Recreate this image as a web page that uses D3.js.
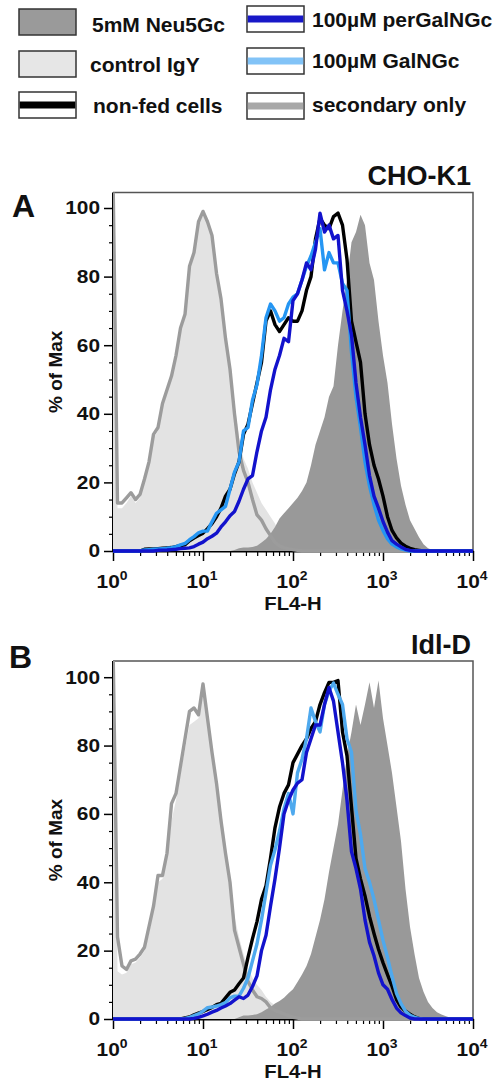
<!DOCTYPE html>
<html><head><meta charset="utf-8">
<script src="https://cdn.jsdelivr.net/npm/d3@7"></script>
<style>
body{margin:0;background:#fff}
svg{display:block}
text{font-family:"Liberation Sans",Arial,Helvetica,sans-serif;font-weight:bold;fill:#111}
</style>
</head><body>
<svg id="chart" width="501" height="1082"></svg>
<script>
// ---------- DATA ----------
// histogram channels, as log10(FL4-H)
const binExp = [0,0.05,0.1,0.15,0.2,0.25,0.3,0.35,0.4,0.45,0.5,0.55,0.6,0.65,0.7,0.75,0.8,0.85,0.9,0.95,
  1,1.05,1.1,1.15,1.2,1.25,1.3,1.35,1.4,1.45,1.5,1.55,1.6,1.65,1.7,1.75,1.8,1.85,1.9,1.95,
  2,2.05,2.1,2.15,2.2,2.25,2.3,2.35,2.4,2.45,2.5,2.55,2.6,2.65,2.7,2.75,2.8,2.85,2.9,2.95,
  3,3.05,3.1,3.15,3.2,3.25,3.3,3.35,3.4,3.45,3.5,3.55,3.6,3.65,3.7,3.75,3.8,3.85,3.9,3.95,4];

const seriesNames = ["5mM Neu5Gc","control IgY","non-fed cells","100\u00b5M perGalNGc","100\u00b5M GalNGc","secondary only"];
const panelTitles = ["CHO-K1","Idl-D"];
const panelLetters = ["A","B"];
const yTicks = [0,20,40,60,80,100];
const xTickExp = [0,1,2,3,4];
const xLabel = "FL4-H";
const yLabel = "% of Max";

// Panel A (CHO-K1), % of Max
const A_neu5gc = [0,0,0,0,0,0,0,0,0,0,0,0,0,0,0,0,0,0,0,0,
  0,0,0,0,0,0,0,0.3,0.8,1,1,1.2,1.5,2.5,3.5,5,7,9.5,11,12.5,
  14,15.5,17.5,20,25,31,35,39,45,48,60,70,79,90,93,98,95,84,79,67,
  57,49,37,27,19,13.5,9,6.5,4,2,0.8,0.3,0,0,0,0,0,0,0,0,0];
const A_control = [110,12.5,12.5,14,16,14,15.5,20,25,33,35,42,46,50.5,56,64,68,82,86,95,
  98,97,93,82,75,64,55,43,33,27,24,20,17,14,12,10,8,5,2.5,1.5,
  1,0.5,0,0,0,0,0,0,0,0,0,0,0,0,0,0,0,0,0,0,
  0,0,0,0,0,0,0,0,0,0,0,0,0,0,0,0,0,0,0,0,0];
const A_nonfed = [0,0,0,0,0,0,0,0.5,0.6,0.6,0.7,0.8,0.9,1,1.3,1.6,1.8,3,3.8,4.5,
  5.2,6.5,8,10,12.5,16,18,22.5,26,34,37,43,49,55,67,70,66,64,66,68,
  67,67,70,76,80,91,97,95,94,97.5,98.5,95,85,67,61,55,40,31,25,21,
  16,10,6,3.8,2.3,1.4,0.8,0.4,0.2,0,0,0,0,0,0,0,0,0,0,0,0];
const A_pergalngc = [0,0,0,0,0,0,0,0,0,0,0.2,0.25,0.3,0.4,0.5,0.7,0.8,0.9,1.3,2,
  2.6,3.6,4.3,5.2,7,8.5,10.3,11.5,14.5,18,21,22,29,35,39,47,53,57,62,61,
  73,75,79,84,82,88,98.5,93,95,91,92,76,70,63,49,39,31,22,16,12.5,
  8.6,5.5,3,2,1.2,0.5,0.2,0,0,0,0,0,0,0,0,0,0,0,0,0,0];
const A_galngc = [0,0,0,0,0,0,0,0.3,0.4,0.5,0.6,0.7,0.8,1,1.3,1.8,2.2,3.3,4.2,5.3,
  5.8,5.8,8.5,11,12,13,18,23,26,35,36,44,48.5,57,68,72,70,67,68,72,
  74,75,79,83,86,90,94,82,87,84,84,78,76,58,45,36,26,19,13.5,9,
  6,3.5,2,1.2,0.6,0.3,0,0,0,0,0,0,0,0,0,0,0,0,0,0,0];
const A_secondary = [110,14,14,15.5,17,15,16.5,21,26,34,36,43,47,51,57,65,69,83,87,96,
  99,96,92,81,73.5,62,53,40,29,23.5,20,15,10.5,9,6.5,4.5,2.5,1.5,1,0.6,
  0.4,0.2,0,0,0,0,0,0,0,0,0,0,0,0,0,0,0,0,0,0,
  0,0,0,0,0,0,0,0,0,0,0,0,0,0,0,0,0,0,0,0,0];

// Panel B (Idl-D), % of Max
const B_neu5gc = [0,0,0,0,0,0,0,0,0,0,0,0,0,0,0,0,0,0,0,0,
  0,0,0,0,0,0,0,0,0.5,1,1,1.2,1.4,2,2.8,3.5,4.5,5.3,6.2,7.5,
  8.7,10.8,13,15.5,19,24,29,35,43,50,57,67,77,84,92,86,92,98.5,91,99,
  88,80,72,62,52,38,27,19,12,8,5,3.2,2,1.3,0.8,0.4,0.1,0,0,0,0];
const B_control = [110,14,13,13.5,16,16.5,18,20,25,32,40,41,47,58,64,72,79,86,87,88,
  96,89,80,71,61,51,42,30,24,19,15,12,10,8.5,6.5,5,4,2.5,1.5,1,
  0.5,0,0,0,0,0,0,0,0,0,0,0,0,0,0,0,0,0,0,0,
  0,0,0,0,0,0,0,0,0,0,0,0,0,0,0,0,0,0,0,0,0];
const B_nonfed = [0,0,0,0,0,0,0,0,0,0,0,0,0,0,0,0,0.3,0.6,1.2,1.7,
  2.2,2.8,3.4,4.2,4.6,6.2,7.8,8.5,10.3,12,18,23.5,28.5,35,39,47,56,62,66,68.5,
  75,77.5,80,82,85,87,92,95.5,98.5,98.5,99,84,77,62,47,41,36,30,25,20.4,
  16.5,13,9.6,5.7,3.5,2.3,1.4,0.6,0.2,0,0,0,0,0,0,0,0,0,0,0,0];
const B_pergalngc = [0,0,0,0,0,0,0,0,0,0,0,0,0,0,0,0,0,0,0.2,0.5,
  0.9,1.4,2,2.5,3.2,3.8,4.5,5.5,6.5,6,7,9.5,12.6,20,24.5,33,41,50,60,64,
  67,69,70,78,82,86,86,92,97,93,84,75,64,49,44,38,29,22.5,18.5,13.5,
  10,8.7,5.7,3.2,1.8,1,0.3,0,0,0,0,0,0,0,0,0,0,0,0,0,0];
const B_galngc = [0,0,0,0,0,0,0,0,0,0,0,0,0,0,0,0,0.2,0.5,1,1.5,
  2.3,3.3,3.5,3.8,4.2,4.8,6.2,6.7,6.7,9,12,17,22,29,37,45,49.5,55,61.5,66,
  60,72,76,82,91,87,84,92,96,98.3,95,92,82,78,61,54,44,40,35,29,
  23,18,12.5,7.5,4.5,2.3,1.1,0.5,0.2,0,0,0,0,0,0,0,0,0,0,0,0];
const B_secondary = [110,24,15.5,14.5,17,17.5,19,21,27,33,42,42,48.5,63,66,74,82,90,91,89,
  98,88,78,69,58,48.5,40,26,21,16,11,8.5,6.5,6,5,3.3,2.5,2,1.5,1,
  0.5,0.3,0,0,0,0,0,0,0,0,0,0,0,0,0,0,0,0,0,0,
  0,0,0,0,0,0,0,0,0,0,0,0,0,0,0,0,0,0,0,0,0];

// ---------- LAYOUT / STYLE ----------
const svg = d3.select("#chart");
const xLeft = 113, xRight = 473;
const SX = 1.16; // horizontal stretch of axis lettering in the original figure
const panels = [
  {title: panelTitles[0], letter: panelLetters[0], y0: 551, y100: 208, top: 192.6, letterY: 217, letterX: 12,
   data: [A_neu5gc, A_control, A_nonfed, A_pergalngc, A_galngc, A_secondary], lightBlue: "#2596f3"},
  {title: panelTitles[1], letter: panelLetters[1], y0: 1019, y100: 677.2, top: 661, letterY: 668, letterX: 9,
   data: [B_neu5gc, B_control, B_nonfed, B_pergalngc, B_galngc, B_secondary], lightBlue: "#4ea9ee"}
];

const x = d3.scaleLog().domain([1, 1e4]).range([xLeft, xRight]);

// Legend
const legendStyle = [
  {type: "fill", fill: "#9a9a9a"},
  {type: "fill", fill: "#e6e6e6"},
  {type: "band", color: "#000000"},
  {type: "band", color: "#1818c8"},
  {type: "band", color: "#82c3f7"},
  {type: "band", color: "#a8a8a8"}
];
const legendPos = [
  {sx: 19, sy: 9, tx: 92, ty: 32},
  {sx: 19, sy: 51, tx: 90, ty: 72},
  {sx: 19, sy: 92, tx: 93, ty: 113},
  {sx: 247, sy: 6, tx: 312, ty: 27},
  {sx: 247, sy: 48, tx: 312, ty: 68},
  {sx: 247, sy: 93, tx: 312, ty: 112}
];
const lg = svg.append("g");
seriesNames.forEach((name, i) => {
  const p = legendPos[i], s = legendStyle[i];
  const g = lg.append("g");
  g.append("rect").attr("x", p.sx).attr("y", p.sy).attr("width", 57).attr("height", 26)
    .attr("fill", s.type === "fill" ? s.fill : "#fff").attr("stroke", "#333").attr("stroke-width", 1.5);
  if (s.type === "band") {
    g.append("rect").attr("x", p.sx + 0.75).attr("y", p.sy + 9.5).attr("width", 55.5).attr("height", 7)
      .attr("fill", s.color);
  }
  g.append("text").attr("x", p.tx).attr("y", p.ty).attr("font-size", 21).text(name);
});

function stretchedText(parent, tx, ty, anchor, size) {
  return parent.append("text")
    .attr("transform", `translate(${tx},${ty}) scale(${SX},1)`)
    .attr("text-anchor", anchor).attr("font-size", size);
}

panels.forEach((P, pi) => {
  const y = d3.scaleLinear().domain([0, 100]).range([P.y0, P.y100]);
  const g = svg.append("g");
  const clipId = "clip" + pi;
  svg.append("defs").append("clipPath").attr("id", clipId)
    .append("rect").attr("x", xLeft).attr("y", P.top).attr("width", xRight - xLeft + 2).attr("height", P.y0 - P.top + 3);

  // frame top/right
  g.append("path").attr("d", `M${xLeft},${P.top}H${xRight}V${P.y0}`)
    .attr("fill", "none").attr("stroke", "#555").attr("stroke-width", 1.5);

  const pts = arr => arr.map((v, i) => [Math.pow(10, binExp[i]), v]);
  const area = d3.area().x(d => x(d[0])).y0(y(0)).y1(d => y(d[1]));
  const line = d3.line().x(d => x(d[0])).y(d => y(d[1]));

  // y axis
  const yMinor = d3.range(0, 101, 5).filter(v => v % 20 !== 0);
  const axY = g.append("g").attr("transform", `translate(${xLeft},0)`);
  axY.call(d3.axisLeft(y).tickValues(yMinor).tickSize(4).tickSizeOuter(0).tickFormat(""));
  axY.selectAll(".tick line").attr("stroke-width", 1.2);
  axY.select(".domain").attr("d", `M0,${P.top}V${P.y0}`).attr("stroke-width", 2);
  const axYM = g.append("g").attr("transform", `translate(${xLeft},0)`);
  axYM.call(d3.axisLeft(y).tickValues(yTicks).tickSize(9).tickSizeOuter(0).tickFormat(""));
  axYM.select(".domain").remove();
  axYM.selectAll(".tick line").attr("stroke-width", 1.5);
  yTicks.forEach(v => {
    stretchedText(g, 100, y(v), "end", 18).attr("dy", "0.36em").text(String(v));
  });

  // x axis
  const xMinor = [];
  xTickExp.slice(0, -1).forEach(e => { for (let k = 2; k <= 9; k++) xMinor.push(k * Math.pow(10, e)); });
  const axX = g.append("g").attr("transform", `translate(0,${P.y0})`);
  axX.call(d3.axisBottom(x).tickValues(xMinor).tickSize(5).tickSizeOuter(0).tickFormat(""));
  axX.selectAll(".tick line").attr("stroke-width", 1.2);
  axX.select(".domain").attr("stroke-width", 2);
  const axXM = g.append("g").attr("transform", `translate(0,${P.y0})`);
  axXM.call(d3.axisBottom(x).tickValues(xTickExp.map(e => Math.pow(10, e))).tickSize(10).tickSizeOuter(0).tickFormat(""));
  axXM.select(".domain").remove();
  axXM.selectAll(".tick line").attr("stroke-width", 1.5);
  xTickExp.forEach(e => {
    const t = stretchedText(g, x(Math.pow(10, e)) - 1, P.y0 + 37, "middle", 18);
    t.append("tspan").text("10");
    t.append("tspan").attr("font-size", 12).attr("dy", -8).text(String(e));
  });
  stretchedText(g, (xLeft + xRight) / 2, P.y0 + 59, "middle", 17.5).text(xLabel);
  g.append("text").attr("transform", `translate(62,${(P.top + P.y0) / 2}) rotate(-90)`)
    .attr("text-anchor", "middle").attr("font-size", 19).text(yLabel);

  // curves
  const dg = g.append("g").attr("clip-path", `url(#${clipId})`);
  const lw = 3.4;
  dg.append("path").datum(pts(P.data[1])).attr("d", area).attr("fill", "#e3e3e3");
  dg.append("path").datum(pts(P.data[0])).attr("d", area).attr("fill", "#999999");
  dg.append("path").datum(pts(P.data[5])).attr("d", line).attr("fill", "none")
    .attr("stroke", "#9c9c9c").attr("stroke-width", lw).attr("stroke-linejoin", "round");
  dg.append("path").datum(pts(P.data[2])).attr("d", line).attr("fill", "none")
    .attr("stroke", "#000").attr("stroke-width", lw).attr("stroke-linejoin", "round");
  dg.append("path").datum(pts(P.data[4])).attr("d", line).attr("fill", "none")
    .attr("stroke", P.lightBlue).attr("stroke-width", lw).attr("stroke-linejoin", "round");
  dg.append("path").datum(pts(P.data[3])).attr("d", line).attr("fill", "none")
    .attr("stroke", "#1212cc").attr("stroke-width", lw).attr("stroke-linejoin", "round");

  // titles
  g.append("text").attr("x", 471).attr("y", P.y100 - 23).attr("text-anchor", "end")
    .attr("font-size", 27).text(P.title);
  g.append("text").attr("x", P.letterX).attr("y", P.letterY).attr("font-size", 32).text(P.letter);
});
</script>
</body></html>
